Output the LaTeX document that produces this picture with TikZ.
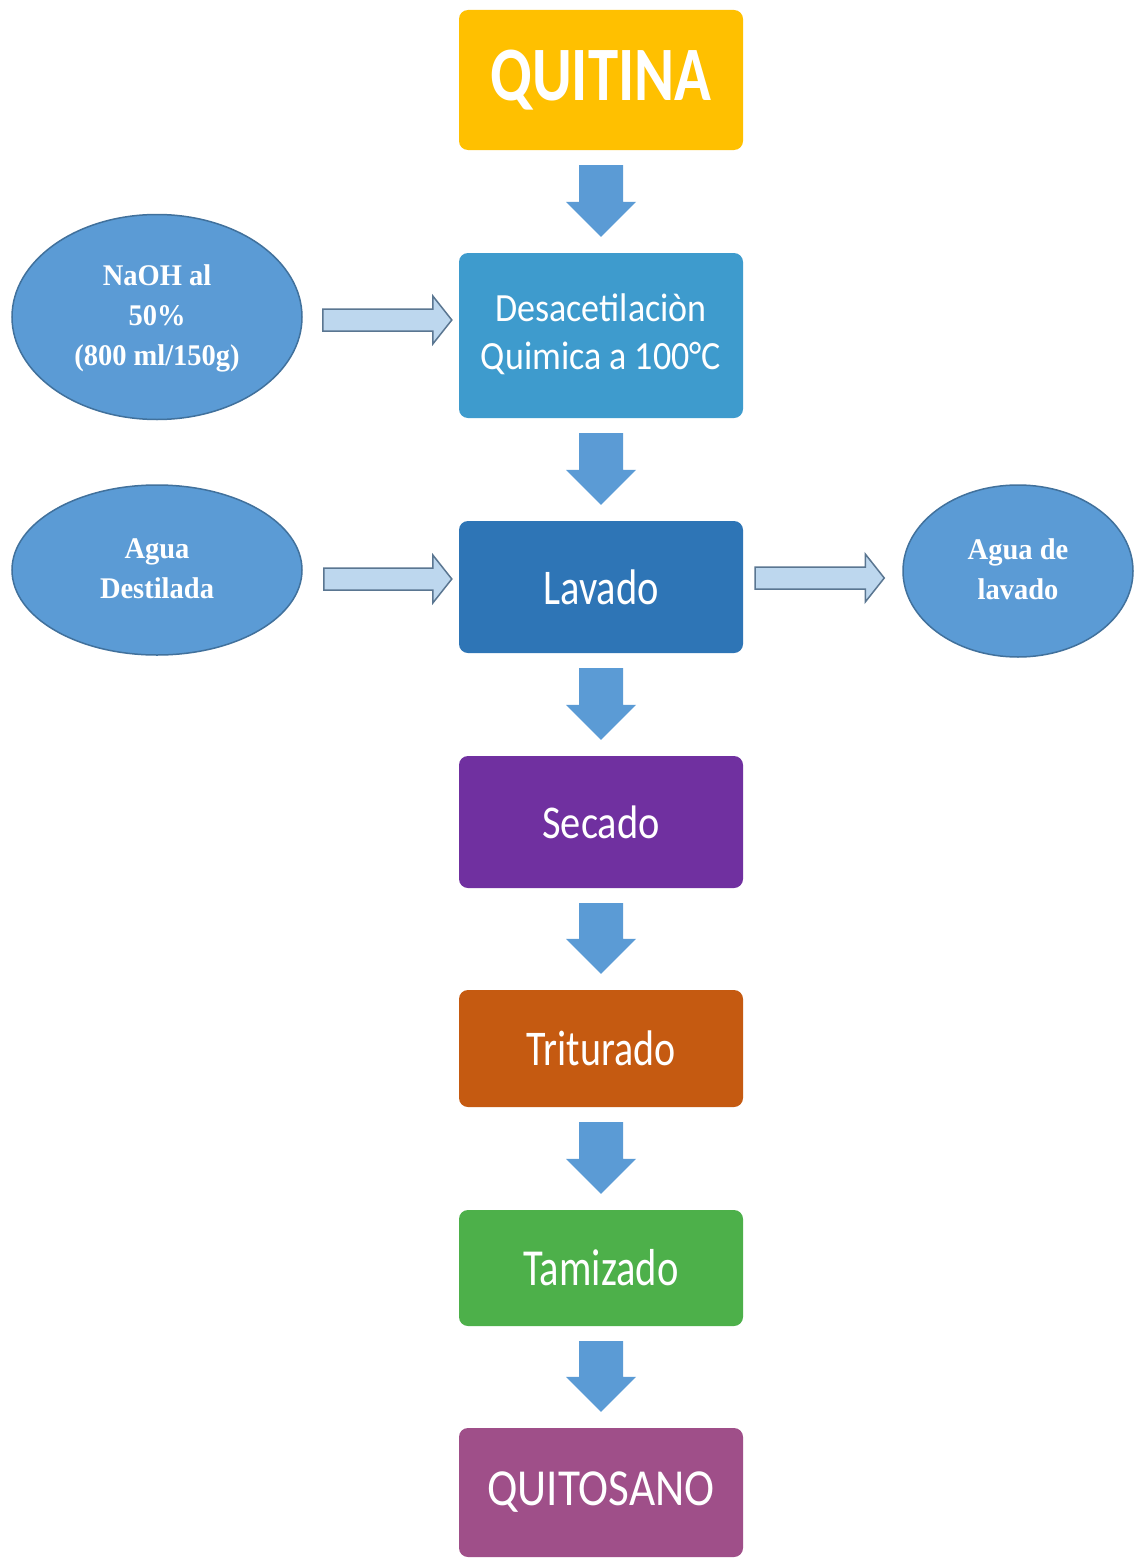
\documentclass[tikz,border=0pt]{standalone}
\usepackage{fontspec}
\usepackage{graphicx}
\usetikzlibrary{calc,shapes.geometric}
\newfontfamily\boxfont{Carlito}
\newfontfamily\ellfont{Liberation Serif}
\definecolor{cquitina}{HTML}{FFC000}
\definecolor{cdesac}{HTML}{3E9BCD}
\definecolor{clavado}{HTML}{2E75B6}
\definecolor{csecado}{HTML}{7030A0}
\definecolor{ctrit}{HTML}{C55A11}
\definecolor{ctamiz}{HTML}{4DB04A}
\definecolor{cquito}{HTML}{9F4F89}
\definecolor{arrblue}{HTML}{5B9BD5}
\definecolor{ellblue}{HTML}{5B9BD5}
\definecolor{ellborder}{HTML}{41719C}
\definecolor{hollowfill}{HTML}{BDD7EE}
\definecolor{hollowdraw}{HTML}{5A7691}
\newcommand\sqz[2]{\scalebox{#1}[1]{#2}}
\newcommand\sqzz[2]{\scalebox{#1}[1]{\begin{tabular}{@{}c@{}}#2\end{tabular}}}
\newcommand\flowdown[2]{%
  \fill[dnarrow] ($(#1.south)+(-22,15)$) -- ($(#1.south)+(22,15)$)
    -- ($(#2.north)+(22,-51)$) -- ($(#2.north)+(35,-51)$)
    -- ($(#2.north)+(0,-16)$) -- ($(#2.north)+(-35,-51)$)
    -- ($(#2.north)+(-22,-51)$) -- cycle;}
\newcommand\hollowarr[2]{%
  \filldraw[hollow] ($(#1)+(0,-11)$) -- ($(#2)+(-19,-11)$) -- ($(#2)+(-19,-24)$)
    -- (#2) -- ($(#2)+(-19,24)$) -- ($(#2)+(-19,11)$) -- ($(#1)+(0,11)$) -- cycle;}
\begin{document}
\begin{tikzpicture}[x=1pt,y=-1pt,
  stepbox/.style={rectangle, rounded corners=9pt, minimum width=284pt, inner sep=0pt, text=white, font=\boxfont},
  oval/.style={ellipse, fill=ellblue, draw=ellborder, line width=1.5pt, inner sep=0pt, text=white,
    font=\ellfont\bfseries\fontsize{30}{40}\selectfont},
  dnarrow/.style={fill=arrblue},
  hollow/.style={fill=hollowfill, draw=hollowdraw, line width=1.5pt, line join=miter}]
\fill[white] (0,0) rectangle (1133,1560);
\useasboundingbox (0,0) rectangle (1133,1560);

% main flow boxes
\node[stepbox, fill=cquitina, minimum height=140pt] (quitina) at (601,80)
  {\fontsize{77}{80}\selectfont\bfseries\sqz{0.79}{QUITINA}};
\node[stepbox, fill=cdesac, minimum height=165pt] (desac) at (601,335.5)
  {\fontsize{40}{48}\selectfont\sqzz{0.9}{Desacetilaciòn\\Quimica a 100°C}};
\node[stepbox, fill=clavado, minimum height=132pt] (lavado) at (601,587)
  {\fontsize{50}{55}\selectfont\sqz{0.81}{Lavado}};
\node[stepbox, fill=csecado, minimum height=132pt] (secado) at (601,822)
  {\fontsize{47}{52}\selectfont\sqz{0.86}{Secado}};
\node[stepbox, fill=ctrit, minimum height=117pt] (trit) at (601,1048.5)
  {\fontsize{50}{55}\selectfont\sqz{0.80}{Triturado}};
\node[stepbox, fill=ctamiz, minimum height=116pt] (tamiz) at (601,1268)
  {\fontsize{52}{57}\selectfont\sqz{0.78}{Tamizado}};
\node[stepbox, fill=cquito, minimum height=129pt] (quito) at (601,1492.5)
  {\fontsize{52}{57}\selectfont\sqz{0.87}{QUITOSANO}};

% side ellipses
\node[oval, minimum width=290pt, minimum height=205pt] (naoh) at (157,317)
  {\sqzz{0.95}{NaOH al\\50\%\\(800 ml/150g)}};
\node[oval, minimum width=290pt, minimum height=170pt] (agua) at (157,570)
  {\sqzz{0.95}{Agua\\Destilada}};
\node[oval, minimum width=230pt, minimum height=172pt] (aguadel) at (1018,571)
  {\sqzz{0.95}{Agua de\\lavado}};

% down arrows
\flowdown{quitina}{desac}
\flowdown{desac}{lavado}
\flowdown{lavado}{secado}
\flowdown{secado}{trit}
\flowdown{trit}{tamiz}
\flowdown{tamiz}{quito}

% hollow side arrows
\coordinate (h1s) at ($(naoh.east)+(20,3)$);
\coordinate (h1e) at ($(desac.west |- h1s)+(-7,0)$);
\hollowarr{h1s}{h1e}
\coordinate (h2s) at ($(agua.east)+(21,9)$);
\coordinate (h2e) at ($(lavado.west |- h2s)+(-7,0)$);
\hollowarr{h2s}{h2e}
\coordinate (h3s) at ($(lavado.east)+(12,-9)$);
\coordinate (h3e) at ($(aguadel.west |- h3s)+(-18,0)$);
\hollowarr{h3s}{h3e}
\end{tikzpicture}
\end{document}
